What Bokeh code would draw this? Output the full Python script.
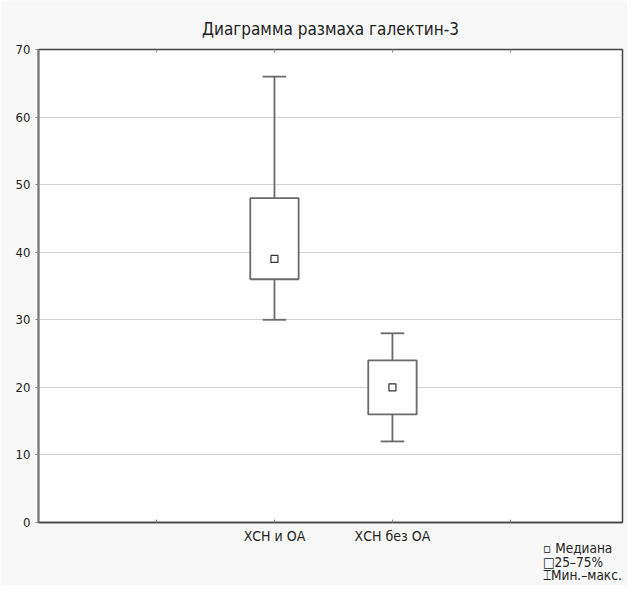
from bokeh.plotting import figure
from bokeh.models import Range1d, FixedTicker, LinearAxis
from bokeh.embed import file_html
from bokeh.resources import INLINE

# ---- data ----
groups = ["ХСН и ОА", "ХСН без ОА"]
group_pos = [2, 3]
mins = [30, 12]
q1s = [36, 16]
medians = [39, 20]
q3s = [48, 24]
maxs = [66, 28]
y_ticks = [0, 10, 20, 30, 40, 50, 60, 70]
x_ticks = [1, 2, 3, 4]
legend_texts = ["\u2009▫ Медиана", "□25–75%", "⌶Мин.–макс."]
title_text = "Диаграмма размаха галектин-3"

FONT = "'Liberation Sans Narrow', 'DejaVu Sans Condensed', 'Arial Narrow', sans-serif"
BG = "#f8f8f8"
BOXC = "#6a6a6a"

p = figure(width=627, height=585, output_backend="svg", toolbar_location=None,
           x_range=Range1d(0, 4.95), y_range=Range1d(0, 70),
           x_axis_location="below", min_border_left=38, min_border_right=5,
           min_border_top=49, min_border_bottom=63)
p.border_fill_color = BG
p.background_fill_color = "white"
p.outline_line_color = "#444444"
p.outline_line_width = 1.5

p.title.text = title_text
p.title.align = "center"
p.title.text_font = FONT
p.title.text_font_size = "17px"
p.title.text_font_style = "normal"
p.title.text_color = "#222222"
p.title.standoff = 21

# y axis
p.yaxis.ticker = FixedTicker(ticks=y_ticks)
p.yaxis.major_label_text_font = FONT
p.yaxis.major_label_text_font_size = "13px"
p.yaxis.major_label_text_color = "#222222"
p.yaxis.axis_line_color = "#7a7a7a"
p.yaxis.axis_line_width = 2
p.yaxis.major_tick_in = 0
p.yaxis.major_tick_out = 3
p.yaxis.minor_tick_line_color = None
p.yaxis.major_tick_line_color = "#888888"
p.yaxis.major_label_standoff = 5

# x axis
p.xaxis.ticker = FixedTicker(ticks=x_ticks)
overrides = {t: "" for t in x_ticks}
for pos, name in zip(group_pos, groups):
    overrides[pos] = name
p.xaxis.major_label_overrides = overrides
p.xaxis.major_label_text_font = FONT
p.xaxis.major_label_text_font_size = "14px"
p.xaxis.major_label_text_color = "#222222"
p.xaxis.axis_line_color = "#444444"
p.xaxis.axis_line_width = 1.5
p.xaxis.major_tick_in = 3
p.xaxis.major_tick_out = 0
p.xaxis.major_tick_line_color = "#888888"
p.xaxis.minor_tick_line_color = None
p.xaxis.major_label_standoff = 5

top_axis = LinearAxis(ticker=FixedTicker(ticks=x_ticks), major_label_text_font_size="0px",
                      major_tick_in=3, major_tick_out=0, major_tick_line_color="#888888",
                      minor_tick_line_color=None, axis_line_color=None,
                      major_label_standoff=0)
p.add_layout(top_axis, "above")

# legend: one invisible axis per row, stacked below the x axis
legend_centers = [4.56, 4.53, 4.61]
legend_standoffs = [-7, -5, -6]
for cx, txt, so in zip(legend_centers, legend_texts, legend_standoffs):
    ax = LinearAxis(ticker=FixedTicker(ticks=[cx]), major_label_overrides={cx: txt},
                    major_label_text_font=FONT, major_label_text_font_size="13.5px",
                    major_label_text_color="#222222", major_label_standoff=so,
                    major_tick_line_color=None, minor_tick_line_color=None,
                    axis_line_color=None, major_tick_in=0, major_tick_out=0)
    p.add_layout(ax, "below")

p.xgrid.grid_line_color = None
p.ygrid.ticker = FixedTicker(ticks=y_ticks)
p.ygrid.grid_line_color = "#d2d2d2"
p.ygrid.grid_line_width = 1

# whiskers
p.segment(x0=group_pos, y0=mins, x1=group_pos, y1=q1s, line_color=BOXC, line_width=1.8)
p.segment(x0=group_pos, y0=q3s, x1=group_pos, y1=maxs, line_color=BOXC, line_width=1.8)
cap_half = 0.1
p.segment(x0=[g - cap_half for g in group_pos], y0=maxs,
          x1=[g + cap_half for g in group_pos], y1=maxs, line_color=BOXC, line_width=1.8)
p.segment(x0=[g - cap_half for g in group_pos], y0=mins,
          x1=[g + cap_half for g in group_pos], y1=mins, line_color=BOXC, line_width=1.8)
# boxes
p.vbar(x=group_pos, width=0.41, bottom=q1s, top=q3s, fill_color="white",
       line_color=BOXC, line_width=1.8)
# medians
p.scatter(x=group_pos, y=medians, marker="square", size=7, fill_color="white",
          line_color="#333333", line_width=1.2)

open("out.html", "w").write(file_html(p, INLINE))
